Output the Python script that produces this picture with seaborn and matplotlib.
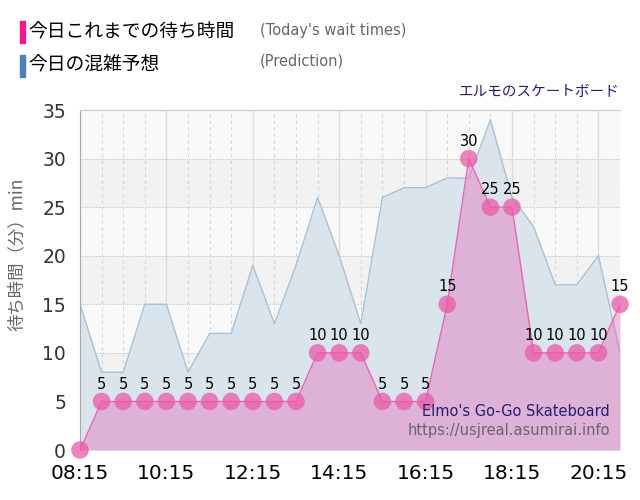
import numpy as np
import pandas as pd
import matplotlib
matplotlib.use('Agg')
import matplotlib.pyplot as plt
import seaborn as sns

times = ['08:15', '08:45', '09:15', '09:45', '10:15', '10:45', '11:15', '11:45',
         '12:15', '12:45', '13:15', '13:45', '14:15', '14:45', '15:15', '15:45',
         '16:15', '16:45', '17:15', '17:45', '18:15', '18:45', '19:15', '19:45',
         '20:15', '20:45']
wait_today = [0, 5, 5, 5, 5, 5, 5, 5, 5, 5, 5, 10, 10, 10, 5, 5,
              5, 15, 30, 25, 25, 10, 10, 10, 10, 15]
prediction = [15, 8, 8, 15, 15, 8, 12, 12, 19, 13, 19, 26, 20, 13, 26, 27,
              27, 28, 28, 34, 26, 23, 17, 17, 20, 10]
tick_labels = ['08:15', '10:15', '12:15', '14:15', '16:15', '18:15', '20:15']


def to_hours(t):
    h, m = t.split(':')
    return int(h) + int(m) / 60


df = pd.DataFrame({'time': times, 'wait': wait_today, 'pred': prediction})
df['x'] = df['time'].apply(to_hours)

sns.set_style('white')
plt.rcParams['font.family'] = ['DejaVu Sans', 'Noto Sans CJK JP']
jp = ['Noto Sans CJK JP', 'DejaVu Sans']

fig = plt.figure(figsize=(6.4, 5), dpi=100)
ax = fig.add_axes([0.125, 0.1, 0.84375, 0.68])

# alternating bands
for y0 in range(0, 35, 5):
    ax.axhspan(y0, y0 + 5, color='#f2f2f2' if (y0 // 5) % 2 else '#f9f9f9', lw=0, zorder=0)

# grid
major_x = [to_hours(s) for s in tick_labels]
for y in range(5, 40, 5):
    ax.axhline(y, color='#c8c8c8', lw=0.8, ls=(0, (1, 1)), zorder=0.5)
for t in df['x']:
    if t not in major_x:
        ax.axvline(t, color='#d6d6d6', lw=0.8, ls=(0, (3, 3)), zorder=0.5)
for t in major_x:
    ax.axvline(t, color='#dcdcdc', lw=1, zorder=0.5)

# prediction area
ax.fill_between(df['x'], df['pred'], color='#d9e4ed', lw=0, zorder=1)
sns.lineplot(data=df, x='x', y='pred', color='#a9c1d6', lw=1, ax=ax, zorder=2)

# today's wait times
ax.fill_between(df['x'], df['wait'], color=(0.9, 0.4, 0.72, 0.4), lw=0, zorder=3)
sns.lineplot(data=df, x='x', y='wait', color='#e866b2', lw=1, ax=ax, zorder=4)
sns.scatterplot(data=df, x='x', y='wait', color='#eb5aa8', alpha=0.75, s=160,
                edgecolor='none', ax=ax, zorder=5, clip_on=False)

for xv, v in zip(df['x'].iloc[1:], df['wait'].iloc[1:]):
    ax.annotate(str(v), (xv, v), xytext=(0, 12.5), textcoords='offset points',
                ha='center', va='center', fontsize=10.5, color='black', zorder=6)

ax.set_xlim(to_hours('08:15'), to_hours('20:45'))
ax.set_ylim(0, 35)
ax.set_xticks(major_x)
ax.set_xticklabels(tick_labels, fontsize=14.5, color='black')
ax.set_yticks(range(0, 40, 5))
ax.tick_params(axis='y', labelsize=13.5, labelcolor='#333333', length=6, color='#dcdcdc', pad=4)
ax.tick_params(axis='x', length=8, color='#dcdcdc', pad=2)
ax.set_xlabel('')
ax.set_ylabel('')

for side in ['right', 'bottom']:
    ax.spines[side].set_visible(False)
ax.spines['top'].set_color('#c8c8c8')
ax.spines['top'].set_linestyle((0, (1, 1)))
ax.spines['left'].set_color('#aaaaaa')

fig.text(17 / 640, 1 - 254 / 500, '待ち時間（分）min', family=jp, fontsize=12.5,
         rotation=90, ha='center', va='center', color='#666666')

# header legend
fig.patches.append(plt.Rectangle((20 / 640, 1 - 43 / 500), 5 / 640, 22 / 500,
                                 transform=fig.transFigure, color='#f0188c'))
fig.patches.append(plt.Rectangle((20 / 640, 1 - 77 / 500), 5 / 640, 22 / 500,
                                 transform=fig.transFigure, color='#4a80b4'))
fig.text(28 / 640, 1 - 32 / 500, '今日これまでの待ち時間', family=jp, fontsize=13.5,
         va='center', color='black')
fig.text(28 / 640, 1 - 65 / 500, '今日の混雑予想', family=jp, fontsize=13.5,
         va='center', color='black')
fig.text(260 / 640, 1 - 31 / 500, "(Today's wait times)", fontsize=10.5,
         va='center', color='#666666')
fig.text(260 / 640, 1 - 61 / 500, '(Prediction)', fontsize=10.5,
         va='center', color='#666666')
fig.text(620 / 640, 1 - 92 / 500, 'エルモのスケートボード', family=jp, fontsize=10.5,
         ha='right', va='center', color='#20206e')

ax.text(610 / 640, 1 - 411 / 500, "Elmo's Go-Go Skateboard", transform=fig.transFigure,
        fontsize=10.5, ha='right', va='center', color='#20206e', zorder=7)
ax.text(610 / 640, 1 - 431 / 500, 'https://usjreal.asumirai.info', transform=fig.transFigure,
        fontsize=10.5, ha='right', va='center', color='#666666', zorder=7)

fig.savefig('out.png', dpi=100)
